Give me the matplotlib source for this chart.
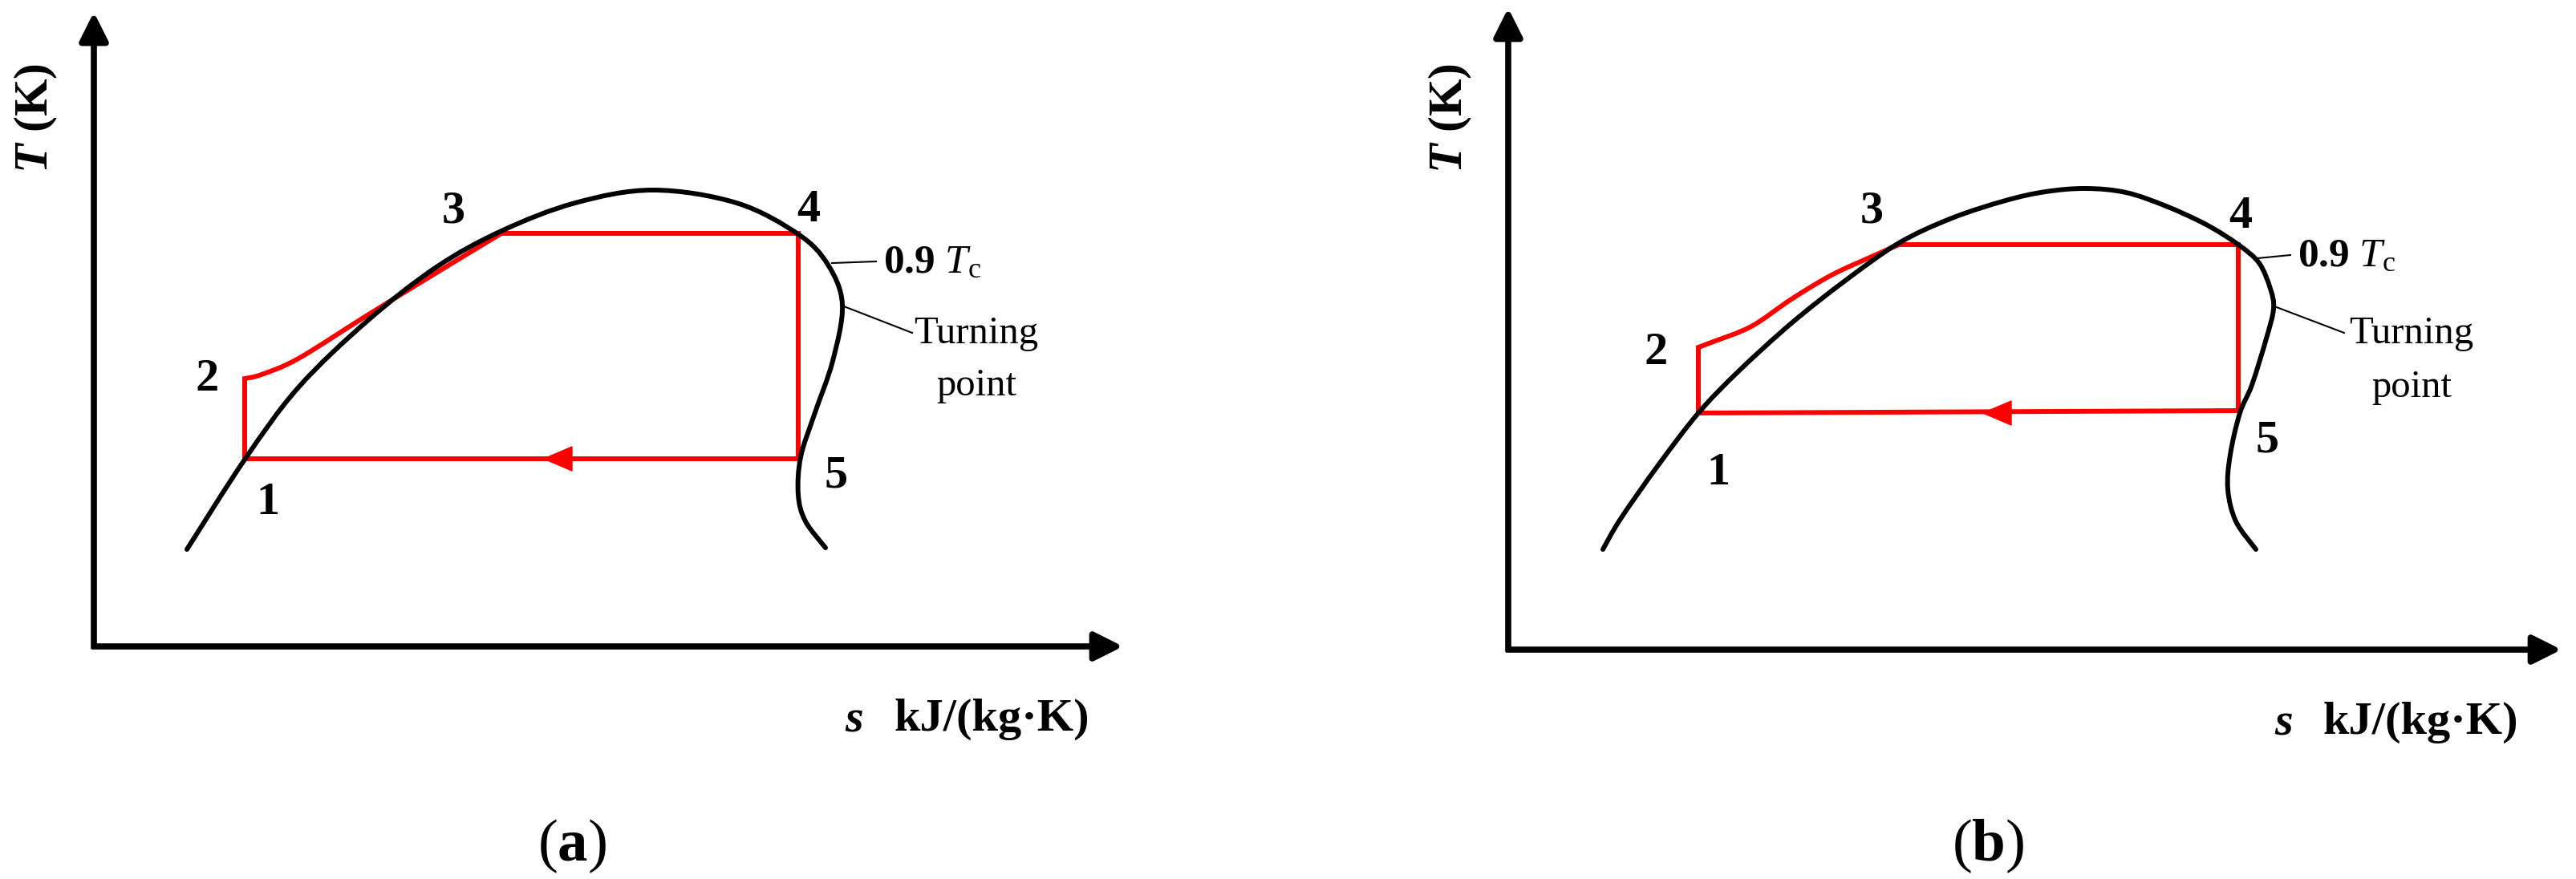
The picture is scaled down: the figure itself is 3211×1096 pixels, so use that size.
import matplotlib
matplotlib.use("Agg")
import matplotlib.pyplot as plt
from matplotlib.path import Path
from matplotlib.patches import PathPatch
import numpy as np

plt.rcParams['font.family'] = ['Liberation Serif', 'DejaVu Serif']
plt.rcParams['mathtext.fontset'] = 'custom'
plt.rcParams['mathtext.rm'] = 'Liberation Serif'
plt.rcParams['mathtext.it'] = 'Liberation Serif:italic'
plt.rcParams['mathtext.bf'] = 'Liberation Serif:bold'
plt.rcParams['mathtext.bfit'] = 'Liberation Serif:italic:bold'

# ---------------- data (schematic T-s diagram, arbitrary units) ----------------
# panel (a)
dome_s_a = [1.16, 1.88, 2.55, 3.41, 4.27, 5.08, 6.00, 6.97, 8.01, 8.78, 9.15, 9.33, 9.21, 8.98, 8.81, 8.78, 8.87, 9.12]
dome_T_a = [1.21, 2.33, 3.23, 4.06, 4.73, 5.18, 5.53, 5.69, 5.53, 5.14, 4.76, 4.26, 3.56, 2.89, 2.36, 1.89, 1.56, 1.23]
heat_s_a = [1.88, 2.09, 2.55, 3.41, 4.27, 5.08]          # 2 -> 3 heating curve
heat_T_a = [3.34, 3.39, 3.59, 4.13, 4.66, 5.15]
state_s_a = [1.88, 1.88, 5.08, 8.78, 8.78]              # states 1..5
state_T_a = [2.34, 3.34, 5.15, 5.15, 2.34]
arrow_s_a = 5.59

# panel (b)
dome_s_b = [1.18, 1.40, 1.87, 2.37, 2.87, 3.53, 4.20, 4.87, 5.53, 6.20, 6.70, 7.20, 7.70, 8.20, 8.70, 9.10, 9.36, 9.50, 9.54, 9.45, 9.27, 9.12, 9.00, 8.97, 9.07, 9.32]
dome_T_b = [1.25, 1.63, 2.30, 2.95, 3.47, 4.07, 4.60, 5.07, 5.38, 5.60, 5.71, 5.75, 5.70, 5.53, 5.30, 5.05, 4.82, 4.50, 4.25, 3.88, 3.30, 2.95, 2.43, 2.00, 1.60, 1.25]
heat_s_b = [2.37, 2.53, 3.03, 3.53, 4.03, 4.53, 4.87]
heat_T_b = [3.77, 3.83, 4.03, 4.37, 4.67, 4.90, 5.05]
state_s_b = [2.37, 2.37, 4.87, 9.10, 9.10]
state_T_b = [2.95, 3.77, 5.05, 5.05, 2.98]
arrow_s_b = 5.90

state_labels = ['1', '2', '3', '4', '5']
x_label_sym = r'$\mathbfit{s}$'
x_label_unit = 'kJ/(kg·K)'
y_label = r'$\mathbfit{T}$ (K)'
tc_label = r'$\mathbf{0.9}\ \mathit{T}_{\mathrm{c}}$'
turn_label = ['Turning', 'point']
panel_labels = [r'$(\mathbf{a})$', r'$(\mathbf{b})$']


def smooth_path(xs, ys):
    """Catmull-Rom curve through the given points, expressed as cubic Bezier path."""
    P = np.column_stack([xs, ys]).astype(float)
    n = len(P)
    verts = [P[0]]
    codes = [Path.MOVETO]
    for i in range(n - 1):
        p0 = P[i - 1] if i > 0 else P[i]
        p1, p2 = P[i], P[i + 1]
        p3 = P[i + 2] if i + 2 < n else P[i + 1]
        c1 = p1 + (p2 - p0) / 6.0
        c2 = p2 - (p3 - p1) / 6.0
        verts += [c1, c2, p2]
        codes += [Path.CURVE4] * 3
    return verts, codes


def draw_panel(ax, d):
    # axes with arrows
    ax.annotate('', xy=(d['xmax'], 0), xytext=(-0.03, 0),
                arrowprops=dict(arrowstyle='-|>,head_length=0.4,head_width=0.2',
                                mutation_scale=54, lw=5.5, color='black',
                                shrinkA=0, shrinkB=0, capstyle='butt'))
    ax.annotate('', xy=(0, d['ymax']), xytext=(0, -0.03),
                arrowprops=dict(arrowstyle='-|>,head_length=0.4,head_width=0.2',
                                mutation_scale=54, lw=5.5, color='black',
                                shrinkA=0, shrinkB=0, capstyle='butt'))

    # red cycle: 1 -> 2 (line), 2 -> 3 (curve), 3 -> 4 -> 5 -> 1 (lines)
    s, T = d['state_s'], d['state_T']
    hv, hc = smooth_path(d['heat_s'], d['heat_T'])
    verts = [(s[0], T[0])] + hv + [(s[3], T[3]), (s[4], T[4]), (s[0], T[0])]
    codes = [Path.MOVETO, Path.LINETO] + hc[1:] + [Path.LINETO] * 3
    ax.add_patch(PathPatch(Path(verts, codes), fill=False, edgecolor='#ff0000',
                           lw=4.3, joinstyle='miter', capstyle='butt', zorder=2))
    # flow arrow on 5 -> 1
    ax.annotate('', xy=(d['arrow_s'], T[0]), xytext=(d['arrow_s'] + 0.5, T[0]),
                arrowprops=dict(arrowstyle='-|>,head_length=0.47,head_width=0.2',
                                mutation_scale=54, lw=1.0, color='#ff0000',
                                shrinkA=0, shrinkB=0), zorder=3)

    # saturation dome
    dv, dc = smooth_path(d['dome_s'], d['dome_T'])
    ax.add_patch(PathPatch(Path(dv, dc), fill=False, edgecolor='black',
                           lw=4.3, capstyle='round', zorder=4))

    # state numbers
    for lab, (x, y) in zip(state_labels, d['num_pos']):
        ax.text(x, y, lab, fontsize=42, fontweight='bold', ha='center', va='center')

    # leaders and annotations
    (x0, y0), (x1, y1) = d['tc_leader']
    ax.plot([x0, x1], [y0, y1], color='black', lw=1.5, zorder=4)
    ax.text(d['tc_text'][0], d['tc_text'][1], tc_label, fontsize=37,
            ha='left', va='center')
    (x0, y0), (x1, y1) = d['turn_leader']
    ax.plot([x0, x1], [y0, y1], color='black', lw=1.5, zorder=4)
    for lab, (x, y) in zip(turn_label, d['turn_text']):
        ax.text(x, y, lab, fontsize=35, ha='center', va='center')

    # axis labels
    ax.text(d['xlab_s'][0], d['xlab_s'][1], x_label_sym, fontsize=42,
            ha='center', va='baseline')
    ax.text(d['xlab_u'][0], d['xlab_u'][1], x_label_unit, fontsize=42,
            fontweight='bold', ha='left', va='baseline')
    ax.text(d['ylab'][0], d['ylab'][1], y_label, fontsize=43, fontweight='bold',
            rotation=90, ha='center', va='center')
    ax.text(d['plab'][0], d['plab'][1], d['panel'], fontsize=54,
            ha='center', va='center')


fig = plt.figure(figsize=(32.12, 10.96), dpi=100)
fig.patch.set_facecolor('white')

ax_a = fig.add_axes([0.0, 0.0, 0.5, 1.0])
ax_a.set_xlim(-1.17, 14.89)
ax_a.set_ylim(-2.90, 8.06)
ax_a.axis('off')
draw_panel(ax_a, dict(
    dome_s=dome_s_a, dome_T=dome_T_a, heat_s=heat_s_a, heat_T=heat_T_a,
    state_s=state_s_a, state_T=state_T_a, arrow_s=arrow_s_a,
    xmax=12.83, ymax=7.91,
    num_pos=[(2.17, 1.79), (1.41, 3.33), (4.48, 5.42), (8.91, 5.44), (9.25, 2.12)],
    tc_leader=[(9.20, 4.78), (9.75, 4.80)], tc_text=(9.84, 4.78),
    turn_leader=[(9.35, 4.24), (10.20, 3.91)],
    turn_text=[(11.00, 3.90), (11.00, 3.25)],
    xlab_s=(9.48, -1.05), xlab_u=(9.98, -1.05), ylab=(-0.72, 6.59),
    plab=(5.96, -2.49), panel=panel_labels[0]))

ax_b = fig.add_axes([0.5, 0.0, 0.5, 1.0])
ax_b.set_xlim(-2.74, 13.32)
ax_b.set_ylim(-2.86, 8.10)
ax_b.axis('off')
draw_panel(ax_b, dict(
    dome_s=dome_s_b, dome_T=dome_T_b, heat_s=heat_s_b, heat_T=heat_T_b,
    state_s=state_s_b, state_T=state_T_b, arrow_s=arrow_s_b,
    xmax=13.13, ymax=8.00,
    num_pos=[(2.62, 2.20), (1.84, 3.70), (4.53, 5.46), (9.13, 5.40), (9.46, 2.61)],
    tc_leader=[(9.34, 4.88), (9.75, 4.92)], tc_text=(9.84, 4.90),
    turn_leader=[(9.55, 4.28), (10.42, 3.95)],
    turn_text=[(11.26, 3.94), (11.26, 3.27)],
    xlab_s=(9.67, -1.05), xlab_u=(10.16, -1.05), ylab=(-0.72, 6.63),
    plab=(5.98, -2.45), panel=panel_labels[1]))

fig.savefig('out.png', dpi=100, facecolor='white')
